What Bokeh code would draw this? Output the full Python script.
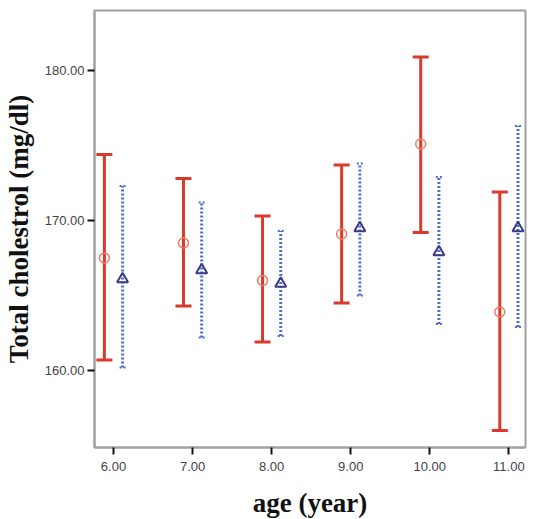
from bokeh.plotting import figure
from bokeh.models import Range1d, Whisker, ColumnDataSource, TeeHead, FixedTicker, NumeralTickFormatter
from bokeh.embed import file_html
from bokeh.resources import INLINE

ages = [6, 7, 8, 9, 10, 11]
y_ticks = [160, 170, 180]

# series 1 (red, solid)
red_mean = [167.5, 168.5, 166.0, 169.1, 175.1, 163.9]
red_lower = [160.7, 164.3, 161.9, 164.5, 169.2, 156.0]
red_upper = [174.4, 172.8, 170.3, 173.7, 180.9, 171.9]

# series 2 (blue, dotted)
blue_mean = [166.1, 166.7, 165.8, 169.5, 167.9, 169.5]
blue_lower = [160.2, 162.2, 162.3, 165.0, 163.1, 162.9]
blue_upper = [172.3, 171.2, 169.3, 173.8, 172.9, 176.3]

offset = 0.115
red_x = [a - offset for a in ages]
blue_x = [a + offset for a in ages]

p = figure(width=526, height=511, frame_width=431, frame_height=437,
           x_range=Range1d(5.76, 11.21), y_range=Range1d(154.87, 184.0),
           output_backend="svg", toolbar_location=None,
           min_border_left=93, min_border_right=2, min_border_top=10, min_border_bottom=64)

red_src = ColumnDataSource(dict(x=red_x, m=red_mean, lo=red_lower, hi=red_upper))
blue_src = ColumnDataSource(dict(x=blue_x, m=blue_mean, lo=blue_lower, hi=blue_upper))

red_col = "#d93a2b"
blue_col = "#4a6fd0"

rw = Whisker(source=red_src, base="x", lower="lo", upper="hi", dimension="height",
             line_color=red_col, line_width=3,
             upper_head=TeeHead(size=16, line_color=red_col, line_width=3),
             lower_head=TeeHead(size=16, line_color=red_col, line_width=3))
p.add_layout(rw)
bw = Whisker(source=blue_src, base="x", lower="lo", upper="hi", dimension="height",
             line_color=blue_col, line_width=3, line_dash="2 2",
             upper_head=TeeHead(size=6, line_color=blue_col, line_width=2, line_dash="2 2"),
             lower_head=TeeHead(size=6, line_color=blue_col, line_width=2, line_dash="2 2"))
p.add_layout(bw)

p.scatter("x", "m", source=red_src, marker="circle", size=10, fill_color="white",
          fill_alpha=0.0, line_color="#f07a68", line_width=1.5)
p.scatter("x", "m", source=blue_src, marker="triangle", size=11, fill_color="white",
          fill_alpha=0.0, line_color="#3a3a88", line_width=2)

p.xgrid.visible = False
p.ygrid.visible = False
p.outline_line_color = "#a0a0a0"
p.outline_line_width = 2

p.xaxis.ticker = FixedTicker(ticks=ages)
p.yaxis.ticker = FixedTicker(ticks=y_ticks)
p.xaxis.formatter = NumeralTickFormatter(format="0.00")
p.yaxis.formatter = NumeralTickFormatter(format="0.00")
p.xaxis.axis_label = "age (year)"
p.yaxis.axis_label = "Total cholestrol (mg/dl)"

for ax in (p.xaxis[0], p.yaxis[0]):
    ax.axis_line_color = "#a0a0a0"
    ax.axis_line_width = 2
    ax.major_tick_line_color = "#111111"
    ax.major_tick_line_width = 2
    ax.major_tick_out = 7
    ax.major_tick_in = 0
    ax.minor_tick_line_color = None
    ax.major_label_text_font = "Liberation Sans"
    ax.major_label_text_font_size = "13px"
    ax.major_label_text_color = "#444444"
    ax.axis_label_text_font = "Liberation Serif"
    ax.axis_label_text_font_style = "bold"
    ax.axis_label_text_font_size = "27px"
    ax.axis_label_text_color = "#111111"

p.yaxis.major_label_standoff = 3
p.yaxis.axis_label_standoff = 8
p.xaxis.major_label_standoff = 7
p.xaxis.axis_label_standoff = 14

open("out.html", "w").write(file_html(p, INLINE))
